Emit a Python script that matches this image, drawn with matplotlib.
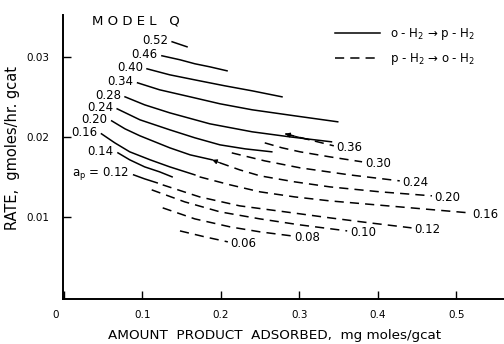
import matplotlib
matplotlib.use('Agg')
import matplotlib.pyplot as plt
import matplotlib.transforms as mtransforms
from matplotlib.lines import Line2D

# o-H2 -> p-H2 (solid), a_p label at the left end of each curve
solid_labels = ['0.52', '0.46', '0.40', '0.34', '0.28', '0.24', '0.20', '0.16', '0.14',
                r'$\mathregular{a_p}$ = 0.12']
solid_x = [
    [0.138, 0.157],
    [0.125, 0.148, 0.167, 0.186, 0.208],
    [0.106, 0.135, 0.173, 0.205, 0.240, 0.278],
    [0.094, 0.122, 0.161, 0.199, 0.240, 0.294, 0.349],
    [0.078, 0.103, 0.135, 0.186, 0.240, 0.288, 0.341],
    [0.068, 0.097, 0.135, 0.167, 0.199, 0.231, 0.265],
    [0.061, 0.078, 0.097, 0.116, 0.135, 0.161, 0.189],
    [0.048, 0.065, 0.084, 0.110, 0.135, 0.167],
    [0.069, 0.084, 0.103, 0.122, 0.138],
    [0.089, 0.103, 0.119],
]
solid_y = [
    [0.03188, 0.03125],
    [0.03013, 0.02963, 0.02913, 0.02875, 0.02825],
    [0.02850, 0.02775, 0.02700, 0.02638, 0.02575, 0.02500],
    [0.02675, 0.02588, 0.02500, 0.02413, 0.02338, 0.02263, 0.02188],
    [0.02500, 0.02400, 0.02300, 0.02163, 0.02063, 0.02000, 0.01938],
    [0.02350, 0.02213, 0.02088, 0.01988, 0.01900, 0.01850, 0.01813],
    [0.02200, 0.02100, 0.02013, 0.01938, 0.01863, 0.01775, 0.01713],
    [0.02038, 0.01925, 0.01813, 0.01713, 0.01625, 0.01525],
    [0.01800, 0.01713, 0.01625, 0.01563, 0.01500],
    [0.01525, 0.01475, 0.01425],
]

# p-H2 -> o-H2 (dashed), a_p label at the right end of each curve
dash_labels = ['0.36', '0.30', '0.24', '0.20', '0.16', '0.12', '0.10', '0.08', '0.06']
dash_x = [
    [0.282, 0.313, 0.344],
    [0.256, 0.278, 0.301, 0.339, 0.380],
    [0.214, 0.256, 0.301, 0.364, 0.428],
    [0.199, 0.224, 0.250, 0.294, 0.339, 0.403, 0.469],
    [0.173, 0.212, 0.250, 0.294, 0.339, 0.428, 0.517],
    [0.126, 0.173, 0.224, 0.282, 0.339, 0.390, 0.443],
    [0.112, 0.154, 0.199, 0.250, 0.301, 0.361],
    [0.126, 0.167, 0.212, 0.250, 0.290],
    [0.148, 0.180, 0.209],
]
dash_y = [
    [0.02038, 0.01963, 0.01888],
    [0.01925, 0.01863, 0.01813, 0.01750, 0.01688],
    [0.01800, 0.01700, 0.01613, 0.01525, 0.01450],
    [0.01675, 0.01588, 0.01513, 0.01438, 0.01375, 0.01313, 0.01263],
    [0.01500, 0.01400, 0.01313, 0.01250, 0.01200, 0.01125, 0.01050],
    [0.01400, 0.01250, 0.01138, 0.01063, 0.00988, 0.00925, 0.00863],
    [0.01338, 0.01188, 0.01063, 0.00975, 0.00900, 0.00825],
    [0.01113, 0.00975, 0.00875, 0.00813, 0.00763],
    [0.00825, 0.00750, 0.00688],
]

xticks = [0, 0.1, 0.2, 0.3, 0.4, 0.5]
xticklabels = ['0', '0.1', '0.2', '0.3', '0.4', '0.5']
yticks = [0.01, 0.02, 0.03]
yticklabels = ['0.01', '0.02', '0.03']

plt.rcParams['font.family'] = ['DejaVu Sans']
fig = plt.figure(figsize=(5.04, 3.44), dpi=100)
ax = fig.add_axes([0.125, 0.131, 0.875, 0.826])

lw = 1.1
dashes = (6, 4)
for xs, ys, lab in zip(solid_x, solid_y, solid_labels):
    ax.plot(xs, ys, color='black', lw=lw)
    ax.annotate(lab, (xs[0], ys[0]), xytext=(-3, 1), textcoords='offset points',
                ha='right', va='center', fontsize=8.5)
for xs, ys, lab in zip(dash_x, dash_y, dash_labels):
    ax.plot(xs, ys, color='black', lw=lw, dashes=dashes)
    ax.annotate(lab, (xs[-1], ys[-1]), xytext=(2, -1), textcoords='offset points',
                ha='left', va='center', fontsize=8.5)

# small arrowheads where curves meet
ax.annotate('', xy=(solid_x[6][-1], solid_y[6][-1]),
            xytext=(dash_x[3][0], dash_y[3][0]),
            arrowprops=dict(arrowstyle='-|>', color='black', lw=0.8,
                            mutation_scale=7, shrinkA=0, shrinkB=0))
ax.annotate('', xy=(dash_x[0][0], dash_y[0][0]),
            xytext=(dash_x[0][1], dash_y[0][1]),
            arrowprops=dict(arrowstyle='-|>', color='black', lw=0.8,
                            mutation_scale=7, shrinkA=0, shrinkB=0))

ax.set_xlim(-0.001, 0.5608)
ax.set_ylim(-0.00025, 0.03525)
ax.set_xticks(xticks)
ax.set_xticklabels(xticklabels)
ax.set_yticks(yticks)
ax.set_yticklabels(yticklabels)
ax.tick_params(direction='in', length=6, width=1.0, labelsize=7.5)
ax.tick_params(axis='x', pad=8)
ax.tick_params(axis='y', pad=10)
for s in ['top', 'right']:
    ax.spines[s].set_visible(False)
for s in ['left', 'bottom']:
    ax.spines[s].set_linewidth(1.4)

# the "0" sits a little left of the corner
shift = mtransforms.ScaledTranslation(-8 / 100, 0, fig.dpi_scale_trans)
lbl0 = ax.get_xticklabels()[0]
lbl0.set_transform(lbl0.get_transform() + shift)

ax.set_xlabel('AMOUNT  PRODUCT  ADSORBED,  mg moles/gcat', fontsize=9.7)
ax.xaxis.set_label_coords(0.48, -0.105)
ax.set_ylabel('RATE,  gmoles/hr. gcat', fontsize=10.5)
ax.yaxis.set_label_coords(-0.098, 0.53)
ax.text(0.065, 1.0, 'M O D E L   Q', transform=ax.transAxes, fontsize=9.5,
        ha='left', va='top')

handles = [Line2D([], [], color='black', lw=lw),
           Line2D([], [], color='black', lw=lw, dashes=dashes)]
leg = ax.legend(handles, ['o - H$_2$ → p - H$_2$', 'p - H$_2$ → o - H$_2$'],
                loc='upper left', bbox_to_anchor=(0.617, 0.96), frameon=False,
                fontsize=8.5, handlelength=3.8, handletextpad=0.85,
                labelspacing=0.75, borderpad=0, borderaxespad=0)

plt.savefig('out.png', dpi=100)
